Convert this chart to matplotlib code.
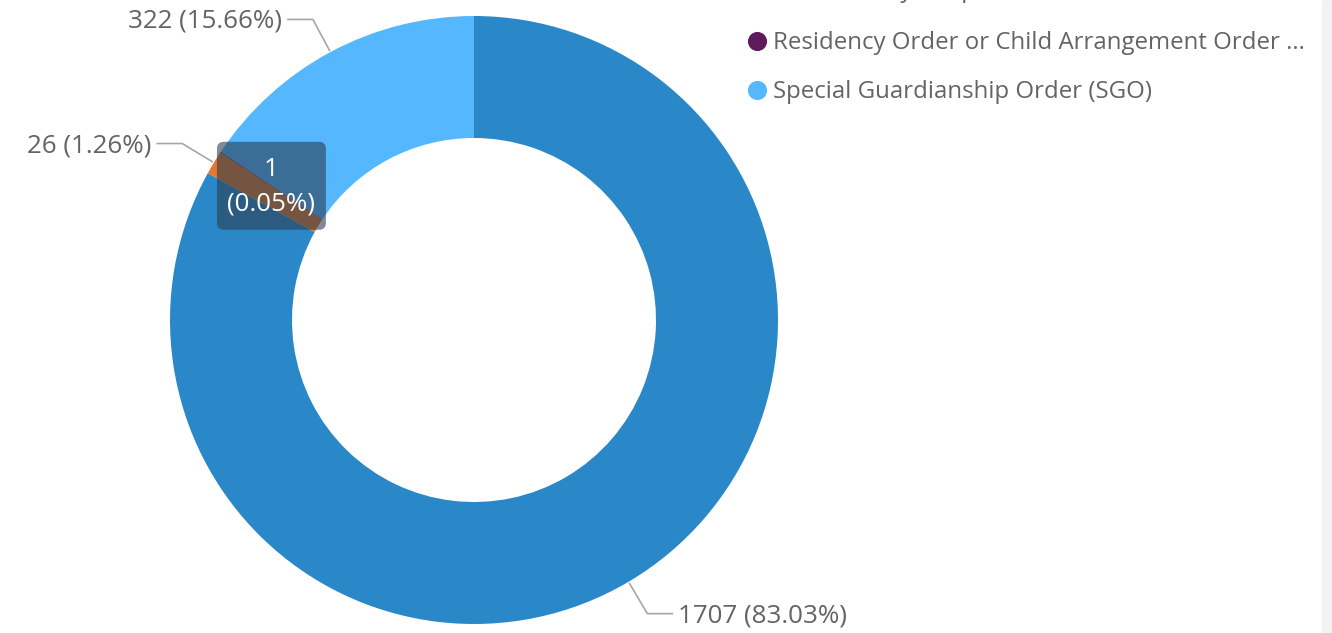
import numpy as np
import matplotlib.pyplot as plt
from matplotlib.patches import FancyBboxPatch

plt.rcParams['font.family'] = ['Open Sans', 'DejaVu Sans']

# Datos del gráfico (orden en el sentido de las agujas del reloj desde arriba)
categorias = ['Adoption Order',
              'Other family adoption',
              'Residency Order or Child Arrangement Order ...',
              'Special Guardianship Order (SGO)']
valores = np.array([1707, 26, 1, 322])
colores = ['#2B88C8', '#E6772E', '#5F1A5E', '#55B8FF']

W, H = 1332, 633
fig = plt.figure(figsize=(W / 100, H / 100), dpi=100)
fig.patch.set_facecolor('white')
ax = fig.add_axes([0, 0, 1, 1])
ax.axis('off')

# franja gris a la derecha
ax.axvspan(1322, W, color='#F2F2F2', zorder=0)

cx, cy, R, r_in = 474, 313, 304, 182
wedges, _ = ax.pie(valores, colors=colores, startangle=90, counterclock=False,
                   center=(cx, cy), radius=R,
                   wedgeprops=dict(width=R - r_in, linewidth=0))
ax.set_xlim(0, W)
ax.set_ylim(0, H)
ax.set_aspect('equal')

total = valores.sum()
pcts = valores / total * 100
texto_color = '#646464'
fs = 18.7

for i, w in enumerate(wedges):
    ang = np.deg2rad((w.theta1 + w.theta2) / 2)
    etiqueta = f"{valores[i]} ({pcts[i]:.2f}%)"
    if i == 2:
        # caja tipo tooltip para el segmento diminuto
        bx = cx + (R + r_in) / 2 * np.cos(ang)
        by = cy + (R + r_in) / 2 * np.sin(ang)
        caja = FancyBboxPatch((bx - 54.5, by - 44), 109, 88,
                              boxstyle='round,pad=0,rounding_size=7',
                              facecolor='#2B3E50', alpha=0.6, linewidth=0, zorder=5)
        ax.add_patch(caja)
        ax.text(bx, by - 1, f"{valores[i]}\n({pcts[i]:.2f}%)", color='white',
                fontsize=fs, ha='center', va='center', linespacing=1.5, zorder=6)
        continue
    x0, y0 = cx + 306 * np.cos(ang), cy + 306 * np.sin(ang)
    x1, y1 = cx + 341 * np.cos(ang), cy + 341 * np.sin(ang)
    lado = 1 if np.cos(ang) >= 0 else -1
    x2 = x1 + lado * 25
    ax.plot([x0, x1, x2], [y0, y1, y1], color='#A6A6A6', linewidth=1.2)
    ax.text(x2 + lado * 6, y1 - 2, etiqueta, color=texto_color, fontsize=fs,
            ha='left' if lado > 0 else 'right', va='center')

# leyenda (desplazada, los primeros elementos quedan fuera del área)
fs_leg = 17.3
y_leg = [H - 41 + 49 * 2 + 3, H - 41 + 49 + 3, H - 41, H - 90]
for i, cat in enumerate(categorias):
    ax.scatter([757], [y_leg[i]], s=190, color=colores[i], linewidths=0, zorder=3)
    ax.text(773, y_leg[i] - 2, cat, color=texto_color, fontsize=fs_leg,
            ha='left', va='center')

fig.savefig('out.png', dpi=100, facecolor=fig.get_facecolor())
